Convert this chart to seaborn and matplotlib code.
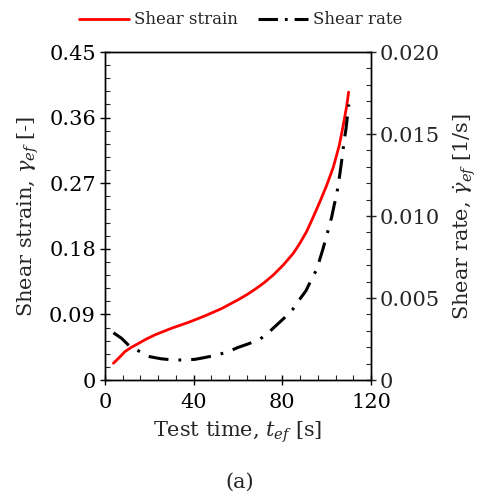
import numpy as np
import pandas as pd
import matplotlib
matplotlib.use("Agg")
import matplotlib.pyplot as plt
import seaborn as sns
from matplotlib.ticker import AutoMinorLocator
from matplotlib.lines import Line2D

# ---- data ----
t_strain = [3.8, 6.5, 9, 12, 15, 18.5, 22.6, 30, 37.6, 45.1, 52.6, 60, 64.5, 68.4,
            72, 75.9, 80.5, 85, 88, 91, 94, 97, 100, 103, 105.7, 107.5, 109.1, 109.9]
shear_strain = [0.023, 0.031, 0.039, 0.045, 0.050, 0.056, 0.062, 0.071, 0.079, 0.088,
                0.098, 0.110, 0.118, 0.126, 0.134, 0.144, 0.158, 0.174, 0.188, 0.204,
                0.224, 0.245, 0.267, 0.292, 0.322, 0.350, 0.377, 0.395]

t_rate = [3.8, 7.5, 11.3, 15.8, 20.3, 25, 30.8, 35.8, 40.6, 45, 50.4, 55.6, 60.1, 65,
          70, 73.7, 77.4, 81, 84.7, 87.6, 90.7, 93, 95.2, 96.7, 98.2, 100.7, 102.3,
          103.4, 104.5, 105.2, 106.0, 106.8, 107.9, 108.7, 109.3, 110.0]
shear_rate = [0.00288, 0.00254, 0.00203, 0.00173, 0.00142, 0.00130, 0.00122, 0.00122,
              0.00126, 0.00137, 0.00152, 0.00173, 0.00199, 0.00222, 0.00250, 0.00288,
              0.00335, 0.00380, 0.00431, 0.00488, 0.00545, 0.00610, 0.00666, 0.00727,
              0.00793, 0.00915, 0.00996, 0.01067, 0.01130, 0.01189, 0.01260, 0.01340,
              0.01460, 0.01530, 0.01600, 0.01680]

x_ticks = [0, 40, 80, 120]
x_ticklabels = ["0", "40", "80", "120"]
left_ticks = [0, 0.09, 0.18, 0.27, 0.36, 0.45]
left_ticklabels = ["0", "0.09", "0.18", "0.27", "0.36", "0.45"]
right_ticks = [0, 0.005, 0.010, 0.015, 0.020]
right_ticklabels = ["0", "0.005", "0.010", "0.015", "0.020"]

sns.set_style("ticks")
plt.rcParams["font.family"] = ["DejaVu Serif"]
plt.rcParams["mathtext.fontset"] = "dejavuserif"
plt.rcParams["lines.scale_dashes"] = False

df_s = pd.DataFrame({"t": t_strain, "v": shear_strain})
df_r = pd.DataFrame({"t": t_rate, "v": shear_rate})

fig = plt.figure(figsize=(4.81, 4.93), dpi=100)
ax = fig.add_axes([0.2183, 0.2292, 0.7713 - 0.2183, 0.8945 - 0.2292])
ax2 = ax.twinx()

dashdot = (0, (14.4, 7.2, 2.0, 7.2))
sns.lineplot(data=df_s, x="t", y="v", ax=ax, color="#ff0000", lw=2.0,
             estimator=None, sort=True, legend=False)
sns.lineplot(data=df_r, x="t", y="v", ax=ax2, color="black", lw=2.2,
             estimator=None, sort=True, legend=False, linestyle=dashdot,
             dash_capstyle="butt")

fs = 15
ax.set_xlim(0, 120)
ax.set_ylim(0, 0.45)
ax2.set_ylim(0, 0.020)
ax.set_xticks(x_ticks)
ax.set_xticklabels(x_ticklabels)
ax.set_yticks(left_ticks)
ax.set_yticklabels(left_ticklabels)
ax2.set_yticks(right_ticks)
ax2.set_yticklabels(right_ticklabels)
for a in (ax, ax2):
    a.xaxis.set_minor_locator(AutoMinorLocator(5))
    a.yaxis.set_minor_locator(AutoMinorLocator(5))
    for sp in a.spines.values():
        sp.set_visible(True)
        sp.set_linewidth(1.0)
        sp.set_color("black")
ax.tick_params(axis="both", which="major", direction="inout", length=7, width=1,
               labelsize=fs, colors="black", pad=3)
ax.tick_params(axis="x", which="major", pad=6)
ax.tick_params(axis="both", which="minor", direction="in", length=3.5, width=0.8)
ax.tick_params(axis="x", top=False, which="both")
ax.tick_params(axis="y", right=False, which="both")
ax2.tick_params(axis="y", which="major", direction="inout", length=7, width=1,
                labelsize=fs, pad=3)
ax2.tick_params(axis="y", which="minor", direction="in", length=3.5, width=0.8)

ax.set_xlabel(r"Test time, $t_{ef}$ [s]", fontsize=fs, labelpad=5)
ax.set_ylabel(r"Shear strain, $\gamma_{ef}$ [-]", fontsize=fs, labelpad=6)
ax2.set_ylabel(r"Shear rate, $\dot{\gamma}_{ef}$ [1/s]", fontsize=fs, labelpad=8)

handles = [Line2D([], [], color="#ff0000", lw=2.0),
           Line2D([], [], color="black", lw=2.2, linestyle=(0, (14, 5, 2, 5, 6, 0)),
                  dash_capstyle="butt")]
fig.legend(handles, ["Shear strain", "Shear rate"], loc="center",
           bbox_to_anchor=(0.5, 1 - 20 / 493), ncol=2, frameon=False,
           fontsize=12, handlelength=3.0, handletextpad=0.3, columnspacing=1.2)

fig.text(0.499, 1 - 482 / 493, "(a)", ha="center", va="center", fontsize=fs)

fig.savefig("out.png", dpi=100)
